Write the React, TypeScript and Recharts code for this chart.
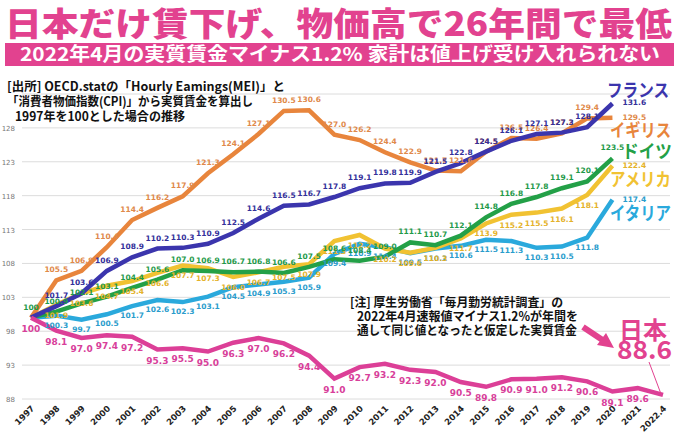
import React from "react";
import { LineChart, Line, XAxis, YAxis, CartesianGrid } from "recharts";

const years = [
  "1997", "1998", "1999", "2000", "2001", "2002", "2003", "2004", "2005",
  "2006", "2007", "2008", "2009", "2010", "2011", "2012", "2013", "2014",
  "2015", "2016", "2017", "2018", "2019", "2020", "2021", "2022.4",
];

// 実質賃金指数 (1997 = 100)
const japan = [
  100, 98.1, 97.0, 97.4, 97.2, 95.3, 95.5, 95.0, 96.3, 97.0, 96.2, 94.4, 91.0,
  92.7, 93.2, 92.3, 92.0, 90.5, 89.8, 90.9, 91.0, 91.2, 90.6, 89.1, 89.6, 88.6,
];
const france = [
  100, 101.7, 103.6, 106.9, 108.9, 110.2, 110.3, 110.9, 112.5, 114.6, 116.5,
  116.7, 117.8, 119.1, 119.8, 119.9, 121.5, 122.8, 124.5, 126.1, 127.1, 127.3,
  128.1, 131.6,
];
const uk = [
  100, 105.5, 106.9, 110.4, 114.4, 116.2, 117.9, 121.3, 124.1, 127.1, 130.5,
  130.6, 127.0, 126.2, 124.4, 122.9, 121.7, 121.6, 124.5, 126.5, 126.4, 127.2,
  129.4, 129.5,
];
const germany = [
  100, 100.9, 102.1, 103.1, 104.4, 105.6, 107.0, 106.9, 106.7, 106.8, 106.6,
  107.5, 108.6, 108.4, 109.0, 111.1, 110.7, 112.1, 114.8, 116.8, 117.8, 119.1,
  120.1, 123.5,
];
const usa = [
  100, 101.9, 103.6, 104.7, 105.4, 106.6, 107.7, 107.3, 106.0, 106.7, 107.5,
  107.9, 111.3, 112.2, 110.2, 109.6, 110.3, 111.7, 113.9, 115.2, 115.5, 116.1,
  118.1, 122.4,
];
const italy = [
  100, 100.3, 99.7, 100.5, 101.7, 102.6, 102.3, 103.1, 104.5, 104.9, 105.3,
  105.9, 109.4, 110.9, 110.4, 109.5, 110.2, 110.6, 111.5, 111.3, 110.3, 110.5,
  111.8, 117.4,
];

const yTicks = [88, 93, 98, 103, 108, 113, 118, 123, 128, 133];

const data = years.map((year, i) => ({
  year,
  japan: japan[i],
  france: france[i] ?? null,
  uk: uk[i] ?? null,
  germany: germany[i] ?? null,
  usa: usa[i] ?? null,
  italy: italy[i] ?? null,
}));

const PINK = "#e2428f";
const JP = '"Noto Sans CJK JP", "Noto Sans", sans-serif';

// ラベル描画 (dy: 点からの上下位置, endRight: 2020 の値を右に出す)
const makeLabel =
  (color: string, dy: number, opts: { skipFirst?: boolean; skipIndex?: number; endRight?: boolean; size?: number }) =>
  (props: any) => {
    const { x, y, value, index } = props;
    if (value == null || x == null || y == null) return null;
    if (opts.skipFirst && index === 0) return null;
    if (opts.skipIndex === index) return null;
    let tx = x;
    let ty = y + dy;
    let anchor = "middle";
    if (opts.endRight && index === 23) {
      tx = x + 10;
      ty = y + 2;
      anchor = "start";
    }
    return (
      <text
        x={tx}
        y={ty}
        textAnchor={anchor}
        fontSize={opts.size ?? 7.5}
        fontWeight="bold"
        fontFamily="'DejaVu Sans', sans-serif"
        fill={color}
      >
        {value === 100 ? "100" : Number(value).toFixed(1)}
      </text>
    );
  };

const XTick = (props: any) => {
  const { x, y, payload } = props;
  return (
    <text
      x={x + 4}
      y={y + 2}
      transform={`rotate(-45, ${x + 4}, ${y + 2})`}
      textAnchor="end"
      fontSize={8.5}
      fontWeight="bold"
      fontFamily="'DejaVu Sans', sans-serif"
      fill="#222"
    >
      {payload.value}
    </text>
  );
};

const YTick = (props: any) => {
  const { y, payload } = props;
  if (payload.value === 133) return null;
  return (
    <text x={15} y={y + 3} textAnchor="end" fontSize={7} fontFamily="'DejaVu Sans', sans-serif" fill="#777">
      {payload.value}
    </text>
  );
};

export default function App() {
  return (
    <div style={{ position: "relative", width: 679, height: 441, background: "#fff", overflow: "hidden" }}>
      <style>{"body{margin:0}"}</style>
      <LineChart
        width={679}
        height={441}
        data={data}
        margin={{ top: 94, right: 9, left: 2, bottom: 7 }}
      >
        <CartesianGrid vertical={false} stroke="#dcdcdc" />
        <XAxis
          dataKey="year"
          interval={0}
          padding={{ left: 9, right: 7 }}
          axisLine={false}
          tickLine={false}
          height={35}
          tick={<XTick />}
        />
        <YAxis
          domain={[88, 133]}
          ticks={yTicks}
          width={20}
          axisLine={false}
          tickLine={false}
          tick={<YTick />}
        />
        <Line
          dataKey="italy"
          stroke="#2aa9dc"
          strokeWidth={4.5}
          dot={false}
          isAnimationActive={false}
          label={makeLabel("#2a9ccc", 12, { skipFirst: true, endRight: true })}
        />
        <Line
          dataKey="usa"
          stroke="#f1c232"
          strokeWidth={4.5}
          dot={false}
          isAnimationActive={false}
          label={makeLabel("#e4b22a", 13, { skipFirst: true, endRight: true })}
        />
        <Line
          dataKey="germany"
          stroke="#23a047"
          strokeWidth={4.5}
          dot={false}
          isAnimationActive={false}
          label={makeLabel("#1f9a4a", -8, {})}
        />
        <Line
          dataKey="uk"
          stroke="#e8853c"
          strokeWidth={4.5}
          dot={false}
          isAnimationActive={false}
          label={makeLabel("#e0894a", -8, { skipFirst: true, endRight: true })}
        />
        <Line
          dataKey="france"
          stroke="#3b35ad"
          strokeWidth={4.5}
          dot={false}
          isAnimationActive={false}
          label={makeLabel("#34309a", -8, { skipFirst: true, endRight: true })}
        />
        <Line
          dataKey="japan"
          stroke="#dc3f97"
          strokeWidth={4.5}
          dot={false}
          isAnimationActive={false}
          label={makeLabel("#d8409a", 14, { skipIndex: 25, size: 9 })}
        />
      </LineChart>

      <svg
        width={679}
        height={441}
        style={{ position: "absolute", left: 0, top: 0, pointerEvents: "none" }}
        fontFamily={JP}
      >
        <text x={5} y={36} fontSize={33} fontWeight={900} fill={PINK} textLength={667} lengthAdjust="spacingAndGlyphs">
          日本だけ賃下げ、物価高で26年間で最低
        </text>
        <rect x={5} y={43} width={669} height={23} fill={PINK} />
        <text x={20} y={61} fontSize={19} fontWeight="bold" fill="#fff" textLength={640} lengthAdjust="spacingAndGlyphs">
          2022年4月の実質賃金マイナス1.2% 家計は値上げ受け入れられない
        </text>

        <g fontSize={12.5} fill="#111" fontWeight="bold">
          <text x={7} y={91} textLength={278} lengthAdjust="spacingAndGlyphs">
            [出所] OECD.statの「Hourly Eamings(MEI)」と
          </text>
          <text x={7} y={106} textLength={246} lengthAdjust="spacingAndGlyphs">
            「消費者物価指数(CPI)」から実質賃金を算出し
          </text>
          <text x={15} y={121} textLength={170} lengthAdjust="spacingAndGlyphs">
            1997年を100とした場合の推移
          </text>
        </g>

        <g fontSize={18} fontWeight="bold">
          <text x={607} y={97} fill="#3b35ad" textLength={62} lengthAdjust="spacingAndGlyphs">フランス</text>
          <text x={610} y={137} fill="#e8853c" textLength={61} lengthAdjust="spacingAndGlyphs">イギリス</text>
          <text x={622} y={158} fill="#23a047" textLength={50} lengthAdjust="spacingAndGlyphs">ドイツ</text>
          <text x={610} y={186} fill="#f1c232" textLength={61} lengthAdjust="spacingAndGlyphs">アメリカ</text>
          <text x={610} y={220} fill="#2aa9dc" textLength={61} lengthAdjust="spacingAndGlyphs">イタリア</text>
        </g>

        <g fontSize={12.5} fill="#111" fontWeight="bold">
          <text x={350} y={307} textLength={213} lengthAdjust="spacingAndGlyphs">
            [注] 厚生労働省「毎月勤労統計調査」の
          </text>
          <text x={357} y={321} textLength={221} lengthAdjust="spacingAndGlyphs">
            2022年4月速報値マイナス1.2%が年間を
          </text>
          <text x={357} y={335} textLength={220} lengthAdjust="spacingAndGlyphs">
            通して同じ値となったと仮定した実質賃金
          </text>
        </g>

        <line x1={583} y1={327} x2={604} y2={341} stroke={PINK} strokeWidth={6} />
        <polygon points="614,348 597,345 606,333" fill={PINK} />
        <text x={619} y={339} fontSize={24} fontWeight="bold" fill={PINK} textLength={48} lengthAdjust="spacingAndGlyphs">
          日本
        </text>
        <text x={617} y={359} fontSize={25} fontWeight="bold" fill={PINK} textLength={55} lengthAdjust="spacingAndGlyphs">
          88.6
        </text>
        <line x1={649} y1={362} x2={661} y2={394} stroke={PINK} strokeWidth={1} />
      </svg>
    </div>
  );
}
